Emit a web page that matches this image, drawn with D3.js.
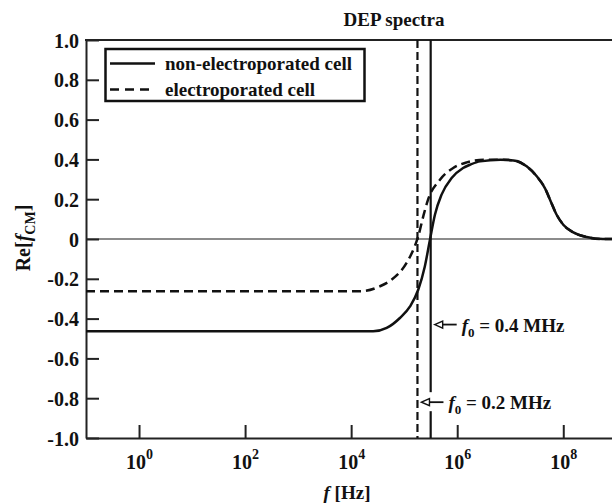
<!DOCTYPE html>
<html>
<head>
<meta charset="utf-8">
<script src="https://cdn.jsdelivr.net/npm/d3@7"></script>
<style>
  body { margin: 0; background: #fff; }
  svg { display: block; }
  svg text { font-family: "Liberation Serif", "DejaVu Serif", serif; font-weight: bold; }
</style>
</head>
<body>
<div id="chart"></div>
<script>
// series values (frequency in Hz, Re[fCM])
var nonElecFreq = [1e-1, 2.6e4, 4.68e4, 8.3e4, 1.29e5, 1.84e5, 2.45e5, 3.08e5, 3.8e5, 5.07e5, 7.85e5, 1.29e6, 1.74e6, 2.7e6, 6.5e6, 1.15e7, 2.04e7, 3.16e7, 4.5e7, 6.0e7, 7.5e7, 1e8, 1.55e8, 2.75e8, 5.6e8, 1e9];
var nonElecRe   = [-0.464, -0.464, -0.447, -0.397, -0.339, -0.255, -0.138, 0, 0.122, 0.223, 0.306, 0.357, 0.373, 0.39, 0.398, 0.395, 0.365, 0.315, 0.256, 0.18, 0.122, 0.072, 0.033, 0.01, 0.0, 0.0];

var elecFreq = [1e-1, 1.46e4, 3.47e4, 5.75e4, 1.11e5, 1.58e5, 1.84e5, 2.29e5, 2.82e5, 4.73e5, 8.4e5, 1.51e6, 3.16e6, 6.5e6, 1.15e7, 2.04e7, 3.16e7, 4.5e7, 6.0e7, 7.5e7, 1e8, 1.55e8, 2.75e8, 5.6e8, 1e9];
var elecRe   = [-0.263, -0.263, -0.238, -0.205, -0.12, -0.037, 0.013, 0.114, 0.198, 0.298, 0.357, 0.385, 0.398, 0.398, 0.395, 0.365, 0.315, 0.256, 0.18, 0.122, 0.072, 0.033, 0.01, 0.0, 0.0];

var crossFreq   = [3.16e5, 1.78e5];          // solid, dashed vertical markers
var crossLabels = ['0.4 MHz', '0.2 MHz'];
var crossLabelRe = [-0.43, -0.82];

var xTickExp = [0, 2, 4, 6, 8];
var yTicks = [-1, -0.8, -0.6, -0.4, -0.2, 0, 0.2, 0.4, 0.6, 0.8, 1];
var seriesNames = ['non-electroporated cell', 'electroporated cell'];

function drawDepChart() {

  var width = 612, height = 503;
  var mLeft = 86, mTop = 40, mBottom = 438;
  var ink = '#111';

  var svg = d3.select('#chart').append('svg')
    .attr('width', width)
    .attr('height', height);

  var x = d3.scaleLog().domain([1e-1, 1e9]).range([mLeft, 616.3]);
  var y = d3.scaleLinear().domain([-1, 1]).range([mBottom, mTop]);

  // zero line
  svg.append('line')
    .attr('x1', mLeft).attr('x2', width)
    .attr('y1', y(0)).attr('y2', y(0))
    .attr('stroke', '#666').attr('stroke-width', 1.5);

  // axes
  var xAxis = svg.append('g')
    .attr('transform', 'translate(0,' + mBottom + ')')
    .call(d3.axisBottom(x)
      .tickValues(xTickExp.map(function(e) { return Math.pow(10, e); }))
      .tickSizeInner(-13).tickSizeOuter(0)
      .tickFormat(''));
  xAxis.selectAll('text').remove();
  xAxis.selectAll('.tick').each(function(d, i) {
    var t = d3.select(this).append('text')
      .attr('y', 31).attr('fill', ink)
      .attr('text-anchor', 'middle')
      .style('font-size', '20px');
    t.append('tspan').text('10');
    t.append('tspan').attr('dy', -10).style('font-size', '14px').text(xTickExp[i]);
  });

  var yAxis = svg.append('g')
    .attr('transform', 'translate(' + mLeft + ',0)')
    .call(d3.axisLeft(y)
      .tickValues(yTicks)
      .tickSizeInner(-13).tickSizeOuter(0).tickPadding(7)
      .tickFormat(function(d) { return d === 0 ? '0' : d3.format('.1f')(d).replace('\u2212', '-'); }));
  yAxis.selectAll('text').attr('fill', ink).style('font-size', '20px').attr('dy', '0.35em');

  svg.selectAll('.domain, .tick line').attr('stroke', '#222').attr('stroke-width', 2);
  svg.selectAll('.tick text').attr('font-family', null);

  // top border
  svg.append('line')
    .attr('x1', mLeft - 1).attr('x2', width)
    .attr('y1', mTop).attr('y2', mTop)
    .attr('stroke', '#222').attr('stroke-width', 2);

  // vertical crossover markers
  svg.selectAll('.cross')
    .data(crossFreq)
   .enter().append('line')
    .attr('class', 'cross')
    .attr('x1', function(d) { return x(d); }).attr('x2', function(d) { return x(d); })
    .attr('y1', mTop).attr('y2', mBottom)
    .attr('stroke', ink).attr('stroke-width', 2.2)
    .attr('stroke-dasharray', function(d, i) { return i === 1 ? '8,4' : null; });

  // curves
  var line = d3.line()
    .x(function(d) { return x(d[0]); })
    .y(function(d) { return y(d[1]); })
    .curve(d3.curveMonotoneX);

  svg.append('path')
    .datum(elecFreq.map(function(f, i) { return [f, elecRe[i]]; }))
    .attr('d', line)
    .attr('fill', 'none').attr('stroke', ink).attr('stroke-width', 2.5)
    .attr('stroke-dasharray', '9,5');

  svg.append('path')
    .datum(nonElecFreq.map(function(f, i) { return [f, nonElecRe[i]]; }))
    .attr('d', line)
    .attr('fill', 'none').attr('stroke', ink).attr('stroke-width', 2.5);

  // crossover labels with arrows
  crossFreq.forEach(function(f, i) {
    var yy = y(crossLabelRe[i]);
    var tipX = x(f) + 4;
    if (i === 1) {
      svg.append('rect')
        .attr('x', x(crossFreq[0]) - 5).attr('y', yy - 10)
        .attr('width', 10).attr('height', 19)
        .attr('fill', '#fff');
    }
    var g = svg.append('g');
    g.append('line')
      .attr('x1', tipX + 6).attr('x2', tipX + 22)
      .attr('y1', yy).attr('y2', yy)
      .attr('stroke', ink).attr('stroke-width', 1.8);
    g.append('path')
      .attr('d', 'M' + tipX + ',' + yy + 'L' + (tipX + 8) + ',' + (yy - 3.5) + 'L' + (tipX + 8) + ',' + (yy + 3.5) + 'Z')
      .attr('fill', '#fff').attr('stroke', ink).attr('stroke-width', 1.4);
    var t = g.append('text')
      .attr('x', tipX + 27).attr('y', yy + 7)
      .attr('fill', ink).style('font-size', '19px');
    t.append('tspan').style('font-style', 'italic').text('f');
    t.append('tspan').attr('dy', 5).style('font-size', '13px').text('0');
    t.append('tspan').attr('dy', -5).text(' = ' + crossLabels[i]);
  });

  // legend
  var lg = svg.append('g');
  lg.append('rect')
    .attr('x', 105.5).attr('y', 49).attr('width', 259).attr('height', 52)
    .attr('fill', '#fff').attr('stroke', ink).attr('stroke-width', 2.5);
  seriesNames.forEach(function(name, i) {
    var ly = 63.5 + i * 26;
    lg.append('line')
      .attr('x1', 110).attr('x2', 155).attr('y1', ly).attr('y2', ly)
      .attr('stroke', ink).attr('stroke-width', 2.5)
      .attr('stroke-dasharray', i === 1 ? '9,6' : null);
    lg.append('text')
      .attr('x', 165).attr('y', ly + 6)
      .attr('fill', ink).style('font-size', '19px')
      .text(name);
  });

  // title
  svg.append('text')
    .attr('x', 394).attr('y', 26)
    .attr('text-anchor', 'middle')
    .attr('fill', ink).style('font-size', '19px')
    .text('DEP spectra');

  // x label
  var xl = svg.append('text')
    .attr('x', 347).attr('y', 499)
    .attr('text-anchor', 'middle')
    .attr('fill', ink).style('font-size', '19px');
  xl.append('tspan').style('font-style', 'italic').text('f');
  xl.append('tspan').text(' [Hz]');

  // y label
  var yl = svg.append('text')
    .attr('transform', 'translate(30,238) rotate(-90)')
    .attr('text-anchor', 'middle')
    .attr('fill', ink).style('font-size', '20px');
  yl.append('tspan').text('Re[');
  yl.append('tspan').style('font-style', 'italic').text('f');
  yl.append('tspan').attr('dy', 5).style('font-size', '14px').text('CM');
  yl.append('tspan').attr('dy', -5).text(']');
}

drawDepChart();
</script>
</body>
</html>
